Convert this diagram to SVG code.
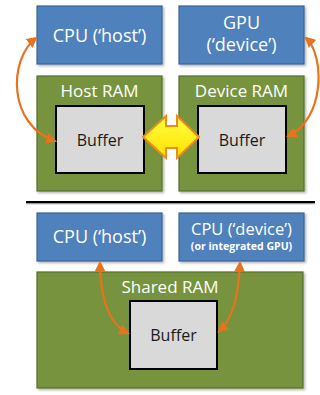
<svg xmlns="http://www.w3.org/2000/svg" width="320" height="395" viewBox="0 0 320 395">
<defs>
<style>
.cpu{fill:#4F81BD;stroke:#3B6597;stroke-width:1.2}
.ram{fill:#77933C;stroke:#56702A;stroke-width:1.2}
.buf{fill:#D9D9D9;stroke:#000;stroke-width:2}
.wt{fill:#fff;font-family:"Open Sans","Liberation Sans",sans-serif;font-size:18px;text-anchor:middle}
.rt{fill:#fff;font-family:"Open Sans","Liberation Sans",sans-serif;font-size:17px;text-anchor:middle}
.bt{fill:#1a1a1a;font-family:"Open Sans","Liberation Sans",sans-serif;font-size:16px;text-anchor:middle}
.st{fill:#fff;font-family:"Open Sans","Liberation Sans",sans-serif;font-size:10.5px;font-weight:bold;text-anchor:middle}
.link{fill:none;stroke:#E8731E;stroke-width:2.2;marker-start:url(#ah);marker-end:url(#ah)}
</style>
<marker id="ah" viewBox="0 0 10 10" refX="8" refY="5" markerWidth="5" markerHeight="5" orient="auto-start-reverse">
<path d="M0,0 L10,5 L0,10 z" fill="#E8731E"/>
</marker>
<linearGradient id="yg" x1="0" y1="0" x2="0" y2="1">
<stop offset="0" stop-color="#FFFF40"/>
<stop offset="1" stop-color="#FFE000"/>
</linearGradient>
<filter id="sh" x="-10%" y="-10%" width="130%" height="130%">
<feDropShadow dx="1.5" dy="1.5" stdDeviation="1" flood-color="#000" flood-opacity="0.3"/>
</filter>
</defs>
<rect width="320" height="395" fill="#fff"/>

<g id="cpu-host-top"><rect class="cpu" x="37" y="6" width="125" height="58" filter="url(#sh)"/><text class="wt" x="99.5" y="42">CPU (‘host’)</text></g>
<g id="gpu-device"><rect class="cpu" x="179" y="6" width="125" height="58" filter="url(#sh)"/><text class="wt" x="241.5" y="29">GPU</text><text class="wt" x="241.5" y="51">(‘device’)</text></g>
<g id="host-ram"><rect class="ram" x="37" y="76" width="125" height="115" filter="url(#sh)"/><text class="rt" x="99.5" y="97">Host RAM</text></g>
<g id="host-buffer"><rect class="buf" x="56" y="106" width="88" height="67"/><text class="bt" x="100" y="146">Buffer</text></g>
<g id="device-ram"><rect class="ram" x="179" y="76" width="125" height="115" filter="url(#sh)"/><text class="rt" x="241.5" y="97">Device RAM</text></g>
<g id="device-buffer"><rect class="buf" x="198" y="106" width="88" height="67"/><text class="bt" x="242" y="146">Buffer</text></g>

<g id="divider"><line x1="26" y1="203.5" x2="315" y2="203.5" stroke="#999" stroke-width="1.5"/><line x1="26" y1="202" x2="315" y2="202" stroke="#000" stroke-width="2"/></g>

<g id="cpu-host-bottom"><rect class="cpu" x="37" y="213" width="125" height="48" filter="url(#sh)"/><text class="wt" x="99.5" y="243">CPU (‘host’)</text></g>
<g id="cpu-device"><rect class="cpu" x="179" y="213" width="125" height="48" filter="url(#sh)"/><text class="wt" x="241.5" y="235" style="font-size:16.5px">CPU (‘device’)</text><text class="st" x="241.5" y="250">(or integrated GPU)</text></g>
<g id="shared-ram"><rect class="ram" x="37" y="272" width="266" height="116" filter="url(#sh)"/><text class="rt" x="170" y="293">Shared RAM</text></g>
<g id="shared-buffer"><rect class="buf" x="130" y="301" width="87" height="68"/><text class="bt" x="173.5" y="341">Buffer</text></g>

<g id="connectors">
<path class="link" d="M36,38 C8,60 8,125 55,141"/>
<path class="link" d="M306,38 C325,55 325,120 288,136"/>
<path class="link" d="M100,263 C100,300 110,325 128,333"/>
<path class="link" d="M240,263 C238,300 232,320 219,331"/>
<polygon points="143,137 166,116 166,126 177,126 177,116 199,137 177,158 177,148 166,148 166,158" fill="url(#yg)" stroke="#F08A1C" stroke-width="2" stroke-linejoin="miter"/>
</g>
</svg>
